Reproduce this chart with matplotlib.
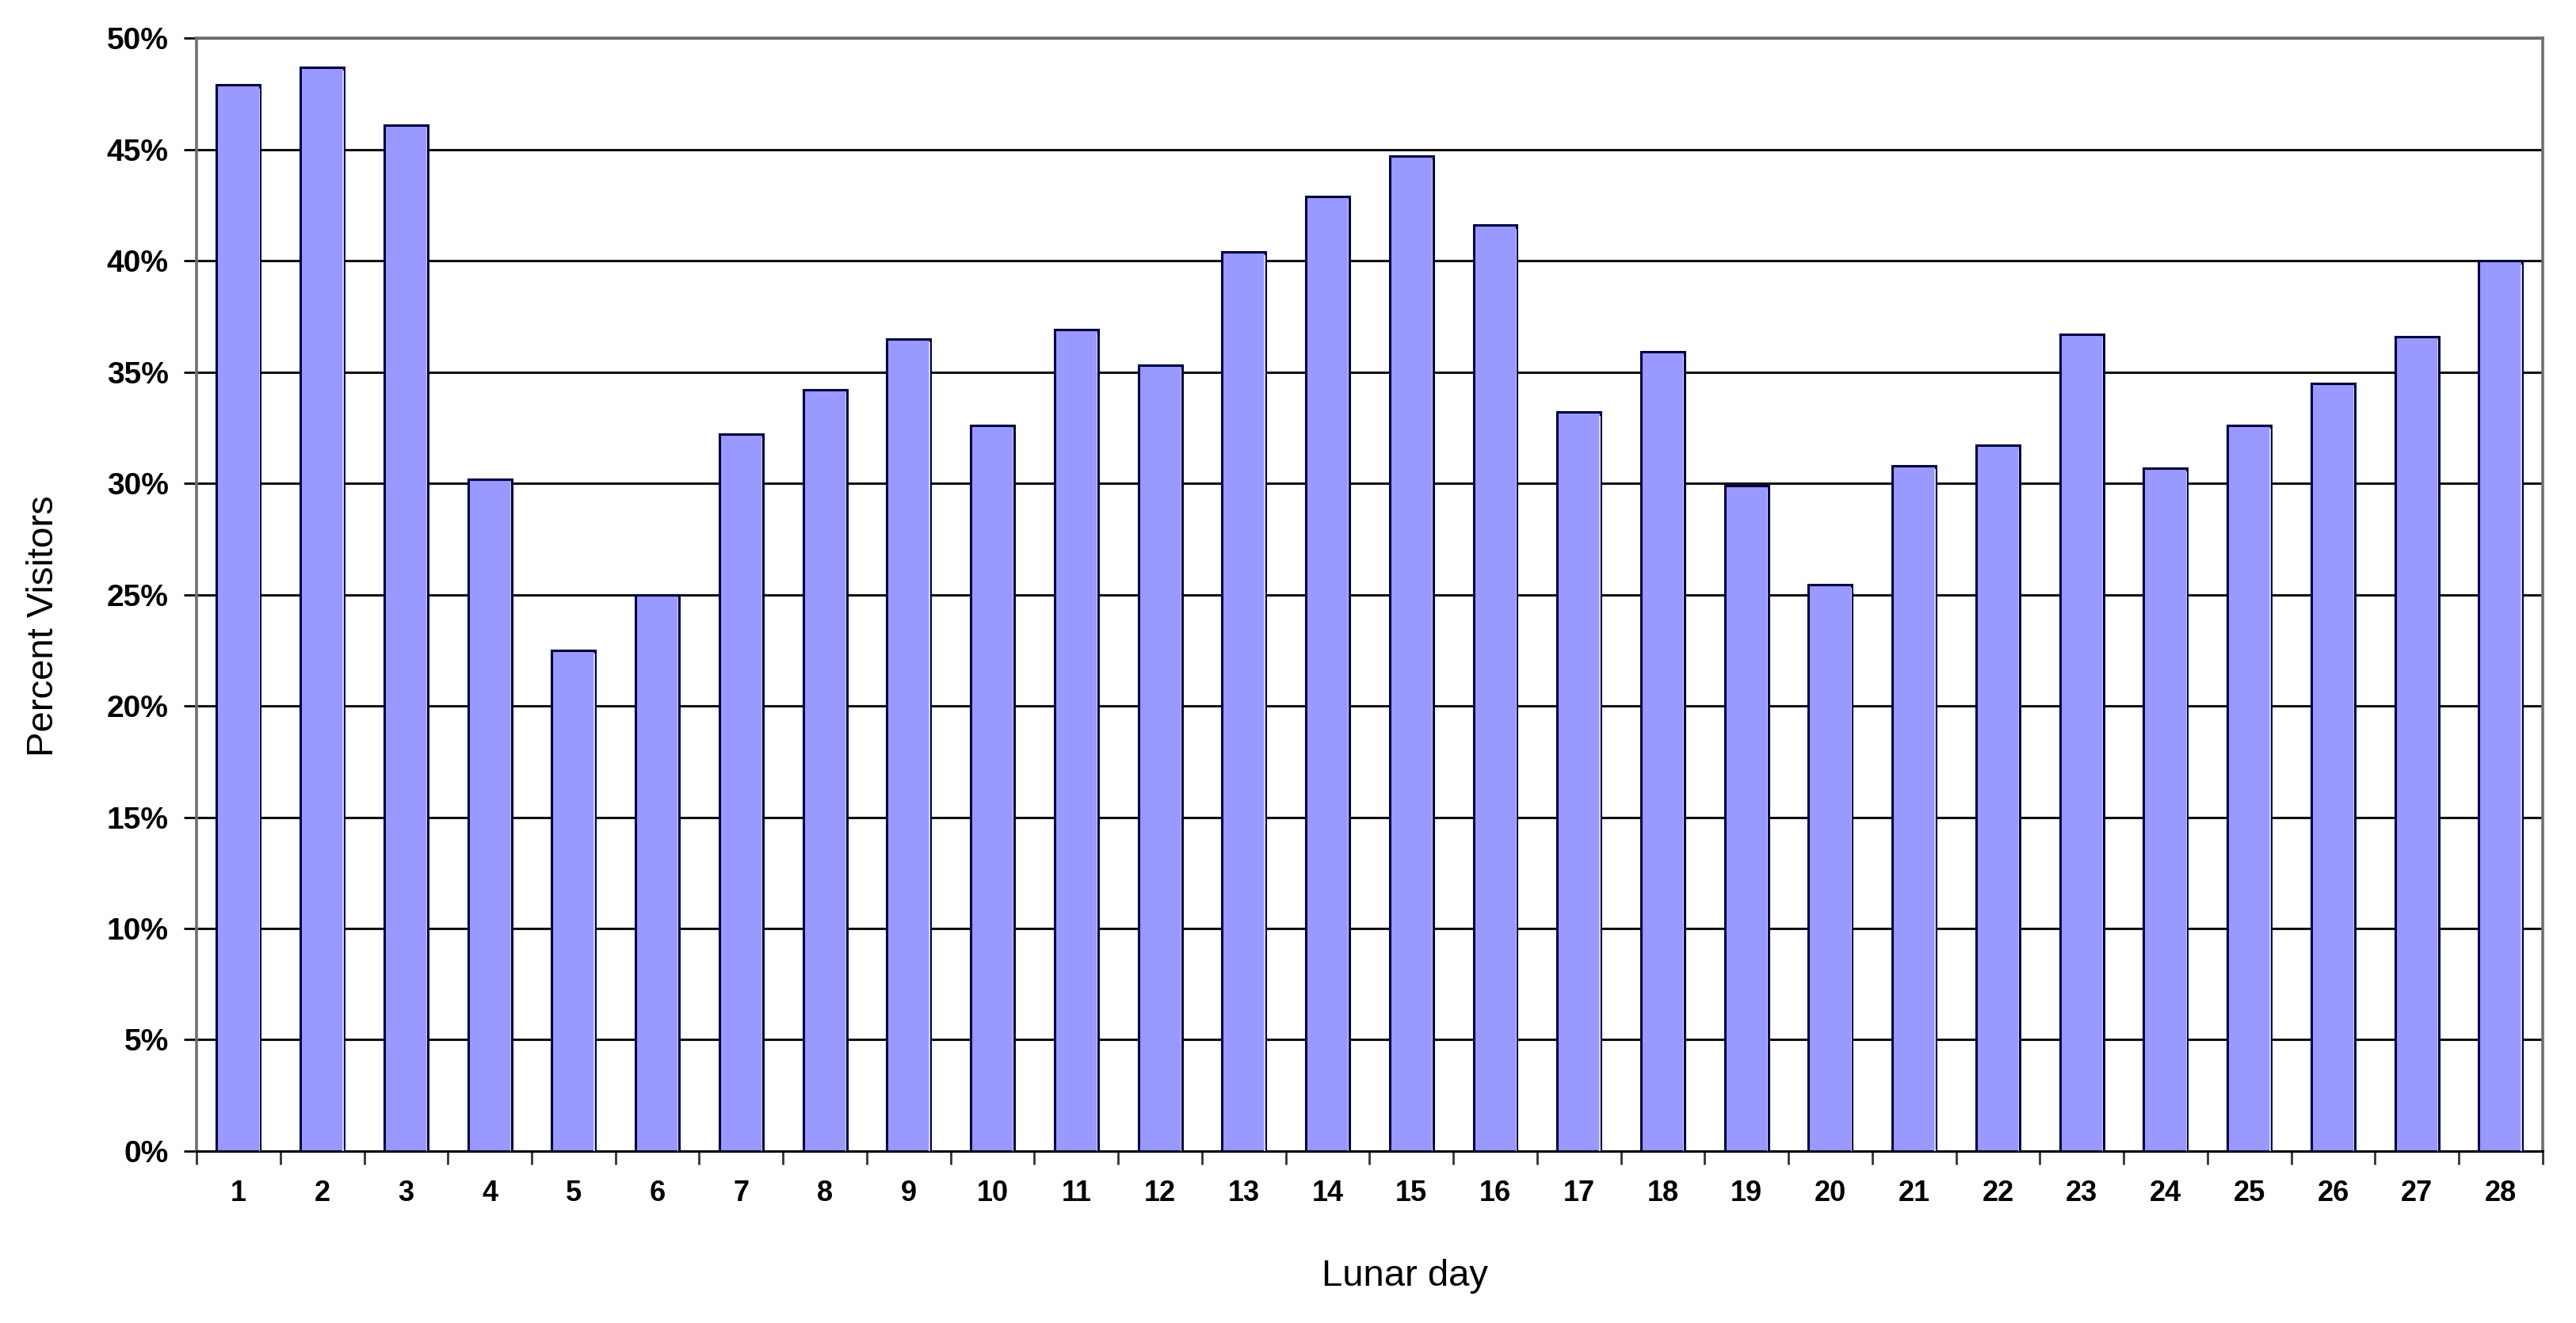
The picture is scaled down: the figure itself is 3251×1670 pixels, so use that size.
import matplotlib
matplotlib.use("Agg")
import matplotlib.pyplot as plt
import numpy as np
from matplotlib.ticker import FixedLocator, PercentFormatter

days = [str(i) for i in range(1, 29)]
percent_visitors = [47.9, 48.7, 46.1, 30.2, 22.5, 25.0, 32.2, 34.2, 36.5, 32.6,
                    36.9, 35.3, 40.4, 42.9, 44.7, 41.6, 33.2, 35.9, 29.9, 25.45,
                    30.8, 31.7, 36.7, 30.7, 32.6, 34.5, 36.6, 40.0]
y_ticks = [0, 5, 10, 15, 20, 25, 30, 35, 40, 45, 50]

plt.rcParams['font.family'] = ['Liberation Sans', 'DejaVu Sans']

fig = plt.figure(figsize=(32.51, 16.70), dpi=100)
ax = fig.add_axes([0.0763, 0.130, 0.9107, 0.841])

x = np.arange(len(days))
bar_w = 0.52
ax.set_axisbelow(True)
ax.yaxis.grid(True, color='#111111', linewidth=2.2)
ax.bar(x, percent_visitors, width=bar_w, color='#9999FF', edgecolor='#000040',
       linewidth=2.2, zorder=3)
# light highlight along the right edge of each bar
ax.bar(x + bar_w / 2 - 0.012, np.array(percent_visitors) - 0.15, width=0.012,
       color='#D4D4FF', linewidth=0, zorder=4)

ax.set_xlim(-0.5, len(days) - 0.5)
ax.set_ylim(0, 50)
ax.set_yticks(y_ticks)
ax.yaxis.set_major_formatter(PercentFormatter(decimals=0))
ax.set_xticks(x)
ax.set_xticklabels(days)
ax.xaxis.set_minor_locator(FixedLocator(np.arange(-0.5, len(days), 1.0)))
ax.tick_params(axis='x', which='major', length=0, pad=26, labelsize=26)
ax.tick_params(axis='x', which='minor', length=12, width=2, direction='out',
               color='#333333')
ax.tick_params(axis='y', which='major', length=11.5, width=2, direction='out',
               labelsize=28, pad=14)
for lab in ax.get_xticklabels() + ax.get_yticklabels():
    lab.set_fontweight('bold')

ax.spines['bottom'].set_color('black')
ax.spines['bottom'].set_linewidth(2.2)
for s in ['left', 'top', 'right']:
    ax.spines[s].set_color('#707070')
    ax.spines[s].set_linewidth(2.6)

ax.set_ylabel('Percent Visitors', fontsize=34)
ax.yaxis.label.set_va('center')
ax.yaxis.set_label_coords(-0.0652, 0.472)
ax.set_xlabel('Lunar day', fontsize=34)
ax.xaxis.label.set_va('baseline')
ax.xaxis.set_label_coords(0.515, -0.121)

fig.savefig('out.png', dpi=100, facecolor='white')
